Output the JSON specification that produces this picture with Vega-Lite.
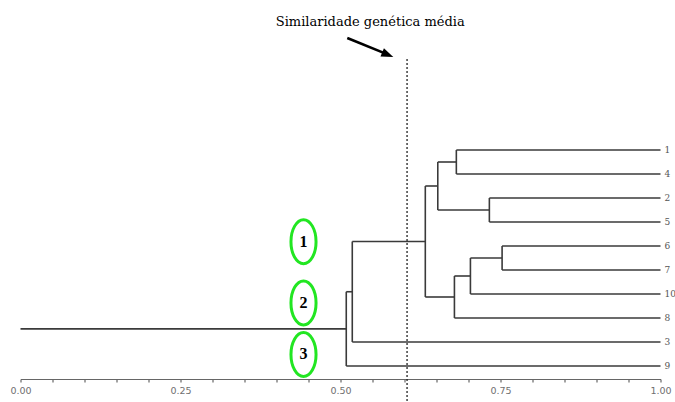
{
  "$schema": "https://vega.github.io/schema/vega-lite/v6.json",
  "width": 640,
  "height": 379,
  "autosize": {"type": "none"},
  "padding": {"left": 20.5, "top": 0, "right": 14.5, "bottom": 23},
  "background": "white",
  "config": {
    "view": {"stroke": null},
    "axis": {
      "grid": false,
      "domainColor": "#666666",
      "domainWidth": 1.2,
      "tickColor": "#666666",
      "tickSize": 3,
      "tickWidth": 1.2,
      "labelColor": "#707070",
      "labelFont": "DejaVu Sans",
      "labelFontSize": 9.5,
      "labelPadding": 3,
      "labelFlush": false
    }
  },
  "datasets": {
    "segments": [
      {"x": 1, "x2": 0.681, "y": 0, "y2": 0},
      {"x": 1, "x2": 0.681, "y": 1, "y2": 1},
      {"x": 1, "x2": 0.7326, "y": 2, "y2": 2},
      {"x": 1, "x2": 0.7326, "y": 3, "y2": 3},
      {"x": 1, "x2": 0.7525, "y": 4, "y2": 4},
      {"x": 1, "x2": 0.7525, "y": 5, "y2": 5},
      {"x": 1, "x2": 0.703, "y": 6, "y2": 6},
      {"x": 1, "x2": 0.678, "y": 7, "y2": 7},
      {"x": 1, "x2": 0.5184, "y": 8, "y2": 8},
      {"x": 1, "x2": 0.509, "y": 9, "y2": 9},
      {"x": 0.681, "x2": 0.652, "y": 0.5, "y2": 0.5},
      {"x": 0.7326, "x2": 0.652, "y": 2.5, "y2": 2.5},
      {"x": 0.7525, "x2": 0.703, "y": 4.5, "y2": 4.5},
      {"x": 0.703, "x2": 0.678, "y": 5.25, "y2": 5.25},
      {"x": 0.652, "x2": 0.6325, "y": 1.5, "y2": 1.5},
      {"x": 0.678, "x2": 0.6325, "y": 6.125, "y2": 6.125},
      {"x": 0.6325, "x2": 0.5184, "y": 3.8125, "y2": 3.8125},
      {"x": 0.5184, "x2": 0.509, "y": 5.906, "y2": 5.906},
      {"x": 0.509, "x2": 0, "y": 7.453, "y2": 7.453},
      {"x": 0.681, "x2": 0.681, "y": 0, "y2": 1},
      {"x": 0.7326, "x2": 0.7326, "y": 2, "y2": 3},
      {"x": 0.7525, "x2": 0.7525, "y": 4, "y2": 5},
      {"x": 0.703, "x2": 0.703, "y": 4.5, "y2": 6},
      {"x": 0.678, "x2": 0.678, "y": 5.25, "y2": 7},
      {"x": 0.652, "x2": 0.652, "y": 0.5, "y2": 2.5},
      {"x": 0.6325, "x2": 0.6325, "y": 1.5, "y2": 6.125},
      {"x": 0.5184, "x2": 0.5184, "y": 3.8125, "y2": 8},
      {"x": 0.509, "x2": 0.509, "y": 5.906, "y2": 9}
    ],
    "leaves": [
      {"x": 1, "y": 0, "label": "1"},
      {"x": 1, "y": 1, "label": "4"},
      {"x": 1, "y": 2, "label": "2"},
      {"x": 1, "y": 3, "label": "5"},
      {"x": 1, "y": 4, "label": "6"},
      {"x": 1, "y": 5, "label": "7"},
      {"x": 1, "y": 6, "label": "10"},
      {"x": 1, "y": 7, "label": "8"},
      {"x": 1, "y": 8, "label": "3"},
      {"x": 1, "y": 9, "label": "9"}
    ],
    "mean": [{"x": 0.604, "x2": 0.604, "y": -3.79, "y2": 10.5}],
    "title": [{"x": 0.5465, "y": -5.33, "label": "Similaridade genética média"}],
    "arrowShaft": [{"x": 0.5106, "x2": 0.5714, "y": -4.667, "y2": -4.004}],
    "arrowHead": [{"x": 0.5825, "y": -3.875}],
    "groups": [
      {"x": 0.4422, "y": 3.82, "label": "1"},
      {"x": 0.4422, "y": 6.37, "label": "2"},
      {"x": 0.4422, "y": 8.52, "label": "3"}
    ]
  },
  "encoding": {
    "x": {
      "field": "x",
      "type": "quantitative",
      "title": null,
      "scale": {"domain": [0, 1], "nice": false, "zero": false},
      "axis": {
        "values": [0, 0.05, 0.1, 0.15, 0.2, 0.25, 0.3, 0.35, 0.4, 0.45, 0.5, 0.55, 0.6, 0.65, 0.7, 0.75, 0.8, 0.85, 0.9, 0.95, 1],
        "labelExpr": "round(datum.value * 20) % 5 == 0 ? format(datum.value, '.2f') : ''",
        "title": null
      }
    },
    "y": {
      "field": "y",
      "type": "quantitative",
      "title": null,
      "scale": {"domain": [-6.25, 9.5417], "nice": false, "zero": false, "reverse": true},
      "axis": null
    }
  },
  "layer": [
    {
      "data": {"name": "segments"},
      "mark": {"type": "rule", "color": "#3a3a3a", "strokeWidth": 1.6},
      "encoding": {"x2": {"field": "x2"}, "y2": {"field": "y2"}}
    },
    {
      "data": {"name": "mean"},
      "mark": {"type": "rule", "color": "#222222", "strokeWidth": 1.3, "strokeDash": [2, 2]},
      "encoding": {"x2": {"field": "x2"}, "y2": {"field": "y2"}}
    },
    {
      "data": {"name": "leaves"},
      "mark": {"type": "text", "align": "left", "baseline": "middle", "dx": 4, "font": "DejaVu Serif", "fontSize": 9, "color": "#555555"},
      "encoding": {"text": {"field": "label"}}
    },
    {
      "data": {"name": "title"},
      "mark": {"type": "text", "align": "center", "baseline": "middle", "font": "DejaVu Serif", "fontSize": 13, "color": "#000000"},
      "encoding": {"text": {"field": "label"}}
    },
    {
      "data": {"name": "arrowShaft"},
      "mark": {"type": "rule", "color": "#000000", "strokeWidth": 2.6},
      "encoding": {"x2": {"field": "x2"}, "y2": {"field": "y2"}}
    },
    {
      "data": {"name": "arrowHead"},
      "mark": {"type": "point", "shape": "M 0 0 L -2 -0.75 L -2 0.75 Z", "size": 144, "angle": 22.4, "filled": true, "color": "#000000", "opacity": 1}
    },
    {
      "data": {"name": "groups"},
      "mark": {"type": "point", "shape": "M 0.57 0 C 0.57 0.552 0.315 1 0 1 C -0.315 1 -0.57 0.552 -0.57 0 C -0.57 -0.552 -0.315 -1 0 -1 C 0.315 -1 0.57 -0.552 0.57 0 Z", "size": 1936, "filled": false, "stroke": "#22e622", "strokeWidth": 3, "opacity": 1}
    },
    {
      "data": {"name": "groups"},
      "mark": {"type": "text", "align": "center", "baseline": "middle", "font": "Liberation Serif", "fontWeight": "bold", "fontSize": 16, "color": "#000000"},
      "encoding": {"text": {"field": "label"}}
    }
  ]
}
